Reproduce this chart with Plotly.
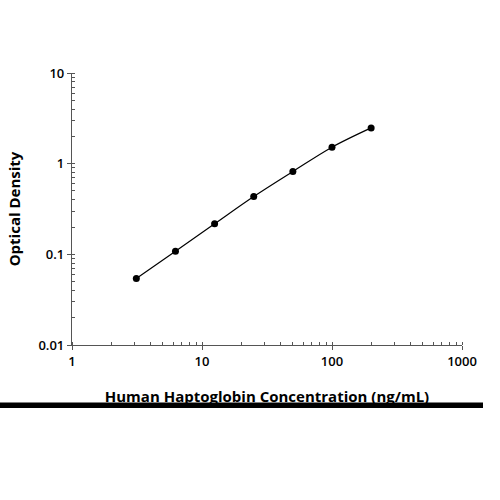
import plotly.graph_objects as go

concentration = [3.125, 6.25, 12.5, 25, 50, 100, 200]
optical_density = [0.054, 0.108, 0.217, 0.434, 0.82, 1.52, 2.48]

x_tickvals = [1, 10, 100, 1000]
x_ticktext = ["1", "10", "100", "1000"]
y_tickvals = [0.01, 0.1, 1, 10]
y_ticktext = ["0.01", "0.1", "1", "10"]

FONT = "Open Sans"
axis_color = "#555555"

fig = go.Figure()
fig.add_trace(go.Scatter(
    x=concentration, y=optical_density, mode="lines",
    line=dict(color="black", width=1.2, shape="spline", smoothing=1),
    showlegend=False, hoverinfo="skip"))
fig.add_trace(go.Scatter(
    x=concentration, y=optical_density, mode="markers",
    marker=dict(color="black", size=7),
    showlegend=False))

common_axis = dict(
    type="log", showgrid=False, zeroline=False,
    showline=True, linecolor=axis_color, linewidth=1.2,
    ticks="outside", ticklen=4, tickcolor=axis_color, tickwidth=1.2,
    tickfont=dict(family=FONT, size=13, color="black", weight=600),
    minor=dict(ticks="inside", ticklen=3, tickcolor=axis_color, tickwidth=1, dtick="D1", showgrid=False),
)

fig.update_xaxes(**common_axis, range=[0, 3], tickvals=x_tickvals, ticktext=x_ticktext,
                 title=dict(text="Human Haptoglobin Concentration (ng/mL)", standoff=22,
                            font=dict(family=FONT, size=15, color="black", weight=700)))
fig.update_yaxes(**common_axis, range=[-2, 1], tickvals=y_tickvals, ticktext=y_ticktext,
                 title=dict(text="Optical Density", standoff=14,
                            font=dict(family=FONT, size=15, color="black", weight=700)))

fig.add_shape(type="rect", xref="paper", yref="paper",
              x0=-72/390, x1=(483-72)/390,
              y0=(345-402.5)/272, y1=(345-408)/272,
              fillcolor="black", line=dict(width=0), layer="above")

fig.update_layout(
    width=500, height=500,
    margin=dict(l=72, r=38, t=73, b=155, autoexpand=False),
    paper_bgcolor="white", plot_bgcolor="white",
)

fig.write_html("out.html", config={"displayModeBar": False},
               post_script="document.body.style.margin='0px';")
